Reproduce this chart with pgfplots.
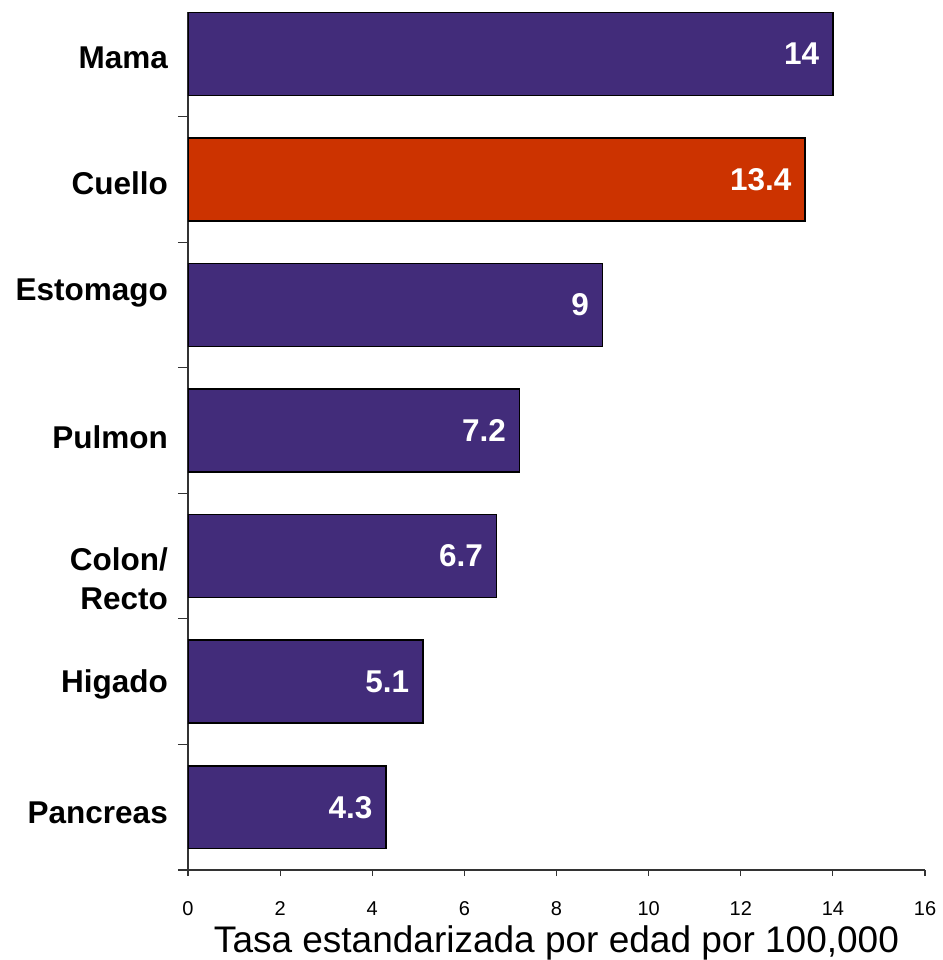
\documentclass[border=0pt]{standalone}
\usepackage{pgfplots}
\pgfplotsset{compat=1.18}
\usepackage{fontspec}
\setmainfont{Liberation Sans}
\usetikzlibrary{calc}
\definecolor{barpurple}{RGB}{66,44,122}
\definecolor{barred}{RGB}{204,51,0}
\newcommand{\catfont}{\fontsize{31.5bp}{39bp}\selectfont\bfseries}
\newcommand{\tickfont}{\fontsize{20bp}{24bp}\selectfont}
\newcommand{\labfont}{\fontsize{37bp}{44bp}\selectfont}
\begin{document}
\begin{tikzpicture}
\begin{axis}[
  name=ax, scale only axis, width=737bp, height=857.6bp,
  xmin=0, xmax=16, ymin=-0.5, ymax=6.33,
  enlargelimits=false,
  xbar, bar width=0.66, bar shift=0pt,
  axis x line=bottom, axis y line=left,
  axis line style={-, line width=1.2bp, black!80},
  tick align=outside, major tick length=6bp, minor tick length=10bp,
  tick style={line width=1.2bp, black!80},
  xtick={0,2,...,16},
  ytick={0,...,6},
  minor ytick={-0.5,0.5,...,5.5},
  every major y tick/.append style={draw=none},
  yticklabels={
    {\raisebox{-4.5bp}{Pancreas}},
    {\raisebox{0bp}{Higado}},
    {\raisebox{-3bp}{\begin{tabular}[t]{@{}r@{}}Colon/\\Recto\end{tabular}}},
    {\raisebox{-7bp}{Pulmon}},
    {\raisebox{16bp}{Estomago}},
    {\raisebox{-4bp}{Cuello}},
    {\raisebox{-3bp}{Mama}}},
  yticklabel style={font=\catfont, anchor=base east, inner sep=0pt, yshift=-11.3bp, xshift=-14bp},
  xticklabel style={font=\tickfont, anchor=base, inner sep=0pt, yshift=-39bp},
  /pgf/number format/assume math mode=true,
  xlabel={Tasa estandarizada por edad por 100,000},
  xlabel style={font=\labfont, at={(axis description cs:0.5,0)}, anchor=base, inner sep=0pt, yshift=-82bp},
  nodes near coords,
  every node near coord/.append style={anchor=east, xshift=-13bp, font=\catfont, color=white, inner sep=0pt},
]
\addplot[fill=barpurple, draw=black, line width=1.5bp] coordinates {(14,6) (9,4) (7.2,3) (6.7,2) (5.1,1) (4.3,0)};
\addplot[fill=barred, draw=black, line width=1.5bp] coordinates {(13.4,5)};
\end{axis}
\pgfresetboundingbox
\path ($(ax.south west)+(-188bp,-90bp)$) rectangle ($(ax.south west)+(755bp,870bp)$);
\end{tikzpicture}
\end{document}
